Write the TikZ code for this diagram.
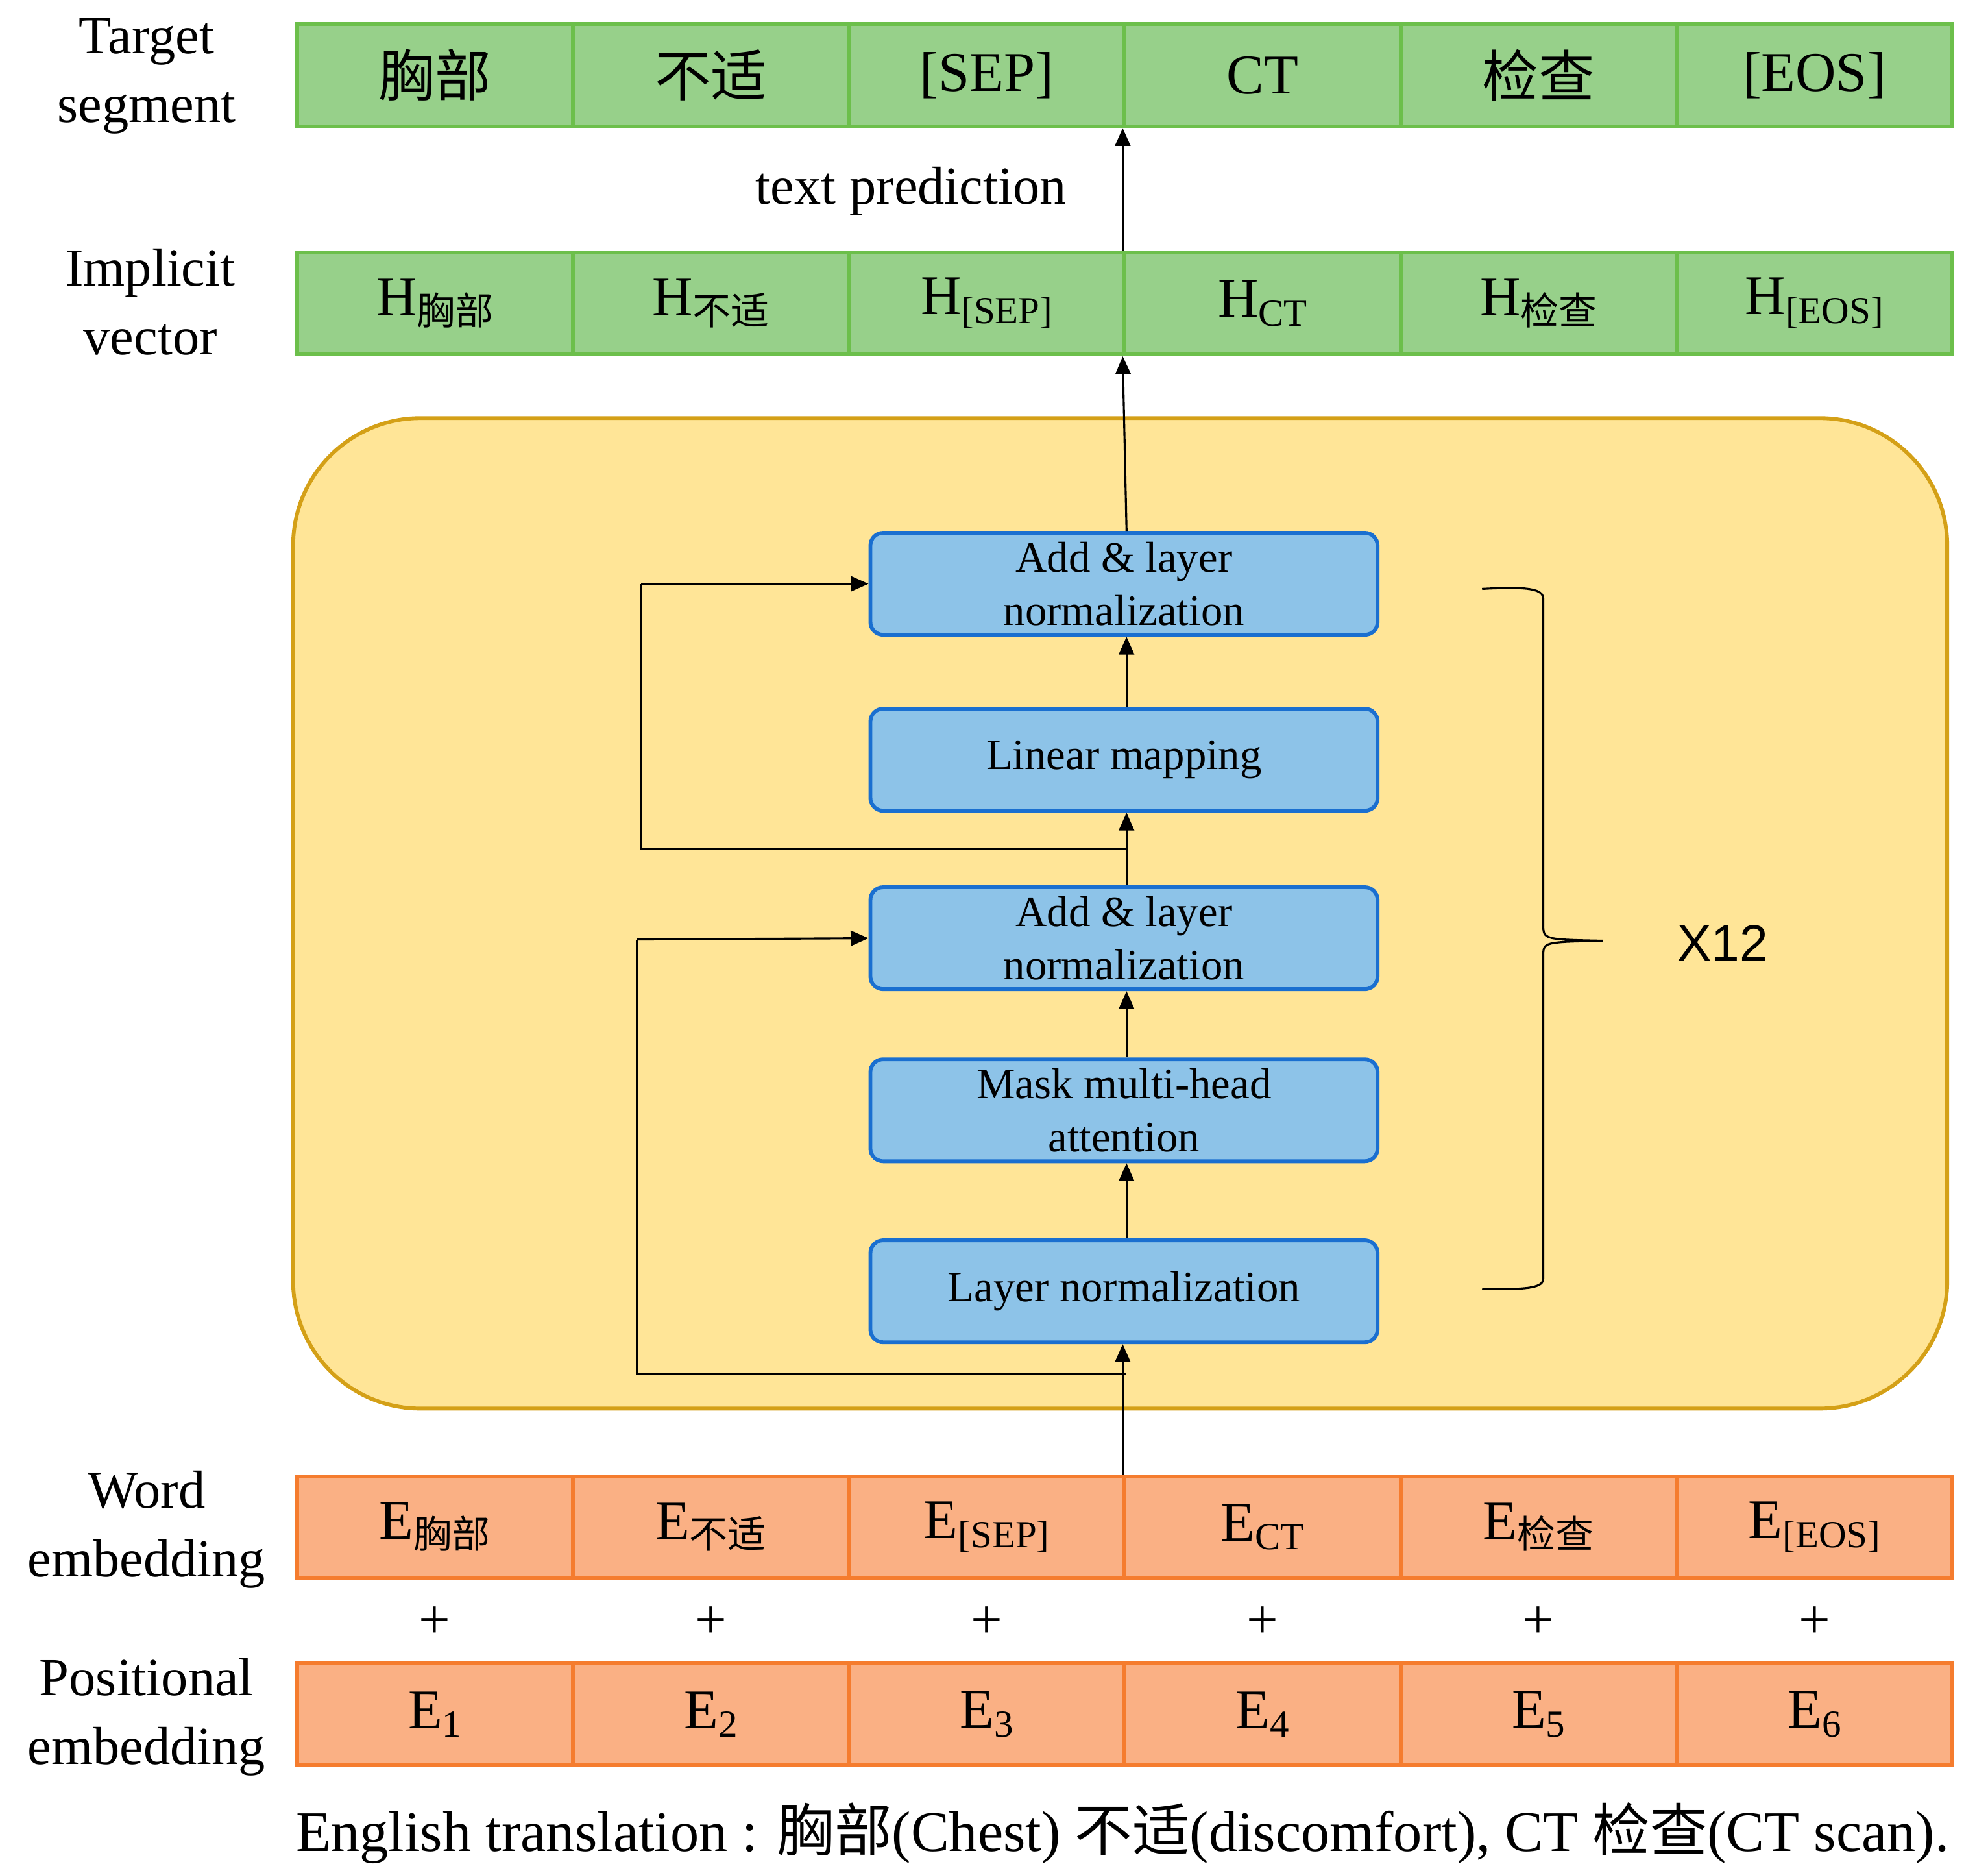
\documentclass[tikz,border=0pt]{standalone}
\usepackage{fontspec}
\setmainfont{Liberation Serif}
\newfontfamily\cjk{Noto Sans CJK SC}
\newfontfamily\sans{Liberation Sans}
\usetikzlibrary{arrows.meta,decorations.pathreplacing}
\newcommand{\mysub}[1]{\raisebox{-0.35ex}{\fontsize{15}{15}\selectfont #1}}
\definecolor{gfill}{HTML}{97D08A}\definecolor{gline}{HTML}{6CBF4B}
\definecolor{ofill}{HTML}{FAB084}\definecolor{oline}{HTML}{F57C2E}
\definecolor{yfill}{HTML}{FFE597}\definecolor{yline}{HTML}{D4A017}
\definecolor{bfill}{HTML}{8DC3E8}\definecolor{bline}{HTML}{1A6FD0}
\begin{document}
\begin{tikzpicture}[x=0.5pt,y=-0.5pt,
 cell/.style={draw=#1line,fill=#1fill,line width=1.5pt,minimum width=108.25pt,minimum height=40pt,inner sep=0pt,font=\fontsize{22}{24}\selectfont},
 blk/.style={draw=bline,fill=bfill,line width=1.5pt,rounded corners=5pt,minimum width=199pt,minimum height=40pt,inner sep=1pt,align=center,font=\fontsize{17}{21}\selectfont},
 lab/.style={align=center,font=\fontsize{21}{27}\selectfont},
 arr/.style={-{Triangle[length=7pt,width=6pt]},line width=0.8pt}]
\useasboundingbox (0,0) rectangle (1560,1469);
% rows
\foreach \t [count=\i] in {{\cjk 胸部},{\cjk 不适},[SEP],CT,{\cjk 检查},[EOS]}{
  \node[cell=g] (t\i) at ({233+216.5*(\i-0.5)},59) {\t};}
\foreach \t [count=\i] in {H\mysub{\cjk 胸部},H\mysub{\cjk 不适},H\mysub{[SEP]},H\mysub{CT},H\mysub{\cjk 检查},H\mysub{[EOS]}}{
  \node[cell=g] (h\i) at ({233+216.5*(\i-0.5)},238) {\t};}
\foreach \t [count=\i] in {E\mysub{\cjk 胸部},E\mysub{\cjk 不适},E\mysub{[SEP]},E\mysub{CT},E\mysub{\cjk 检查},E\mysub{[EOS]}}{
  \node[cell=o] (w\i) at ({233+216.5*(\i-0.5)},1198) {\t};
  \node[font=\fontsize{22}{24}\selectfont] (p\i) at ({233+216.5*(\i-0.5)},1273) {+};
  \node[cell=o] (e\i) at ({233+216.5*(\i-0.5)},1345) {E\mysub{\i}};}
% labels
\node[lab] (l1) at (115,60) {Target\\segment};
\node[lab] (l2) at (118,237) {Implicit\\vector};
\node[lab] (l3) at (115,1200) {Word\\embedding};
\node[lab] (l4) at (115,1347) {Positional\\embedding};
\node[font=\fontsize{21}{24}\selectfont] (tp) at (715,150) {text prediction};
\node[anchor=west,font=\fontsize{22.5}{24}\selectfont,inner sep=0pt] (cap) at (232,1438) {English translation : {\cjk 胸部}(Chest) {\cjk 不适}(discomfort), CT {\cjk 检查}(CT scan).};
% yellow box
\draw[draw=yline,fill=yfill,line width=1.5pt,rounded corners=50pt] (230,328) rectangle (1528,1105);
\node[blk] (b1) at (882,458) {Add \& layer\\normalization};
\node[blk] (b2) at (882,596) {Linear mapping};
\node[blk] (b3) at (882,736) {Add \& layer\\normalization};
\node[blk] (b4) at (882,871) {Mask multi-head\\attention};
\node[blk] (b5) at (882,1013) {Layer normalization};
\coordinate (in) at (884,1078);
\coordinate (mid) at (884,666);
\draw[arr] (w4.north west) -- (b5.south -| w4.north west);
\draw[arr] (b5.north -| mid) -- (b4.south -| mid);
\draw[arr] (b4.north -| mid) -- (b3.south -| mid);
\draw[arr] (b3.north -| mid) -- (b2.south -| mid);
\draw[arr] (b2.north -| mid) -- (b1.south -| mid);
\draw[arr] (b1.north -| mid) -- (h4.south west);
\draw[arr] (h4.north west) -- (t4.south west);
\draw[line width=0.8pt] (in) -- (500,1078) -- (500,737);
\draw[arr] (500,737) -- (b3.west);
\draw[line width=0.8pt] (mid) -- (503,666) -- (503,458);
\draw[arr] (503,458) -- (b1.west);
\draw[line width=0.8pt] (1163,462) .. controls (1200,460) and (1211,462) .. (1211,470) -- (1211,725) .. controls (1211,737) .. (1258,738) .. controls (1211,739) .. (1211,750) -- (1211,1003) .. controls (1211,1010) and (1200,1012) .. (1163,1011);
\node[font=\sans\fontsize{20}{24}\selectfont] (x12) at (1352,740) {X12};
\end{tikzpicture}
\end{document}
